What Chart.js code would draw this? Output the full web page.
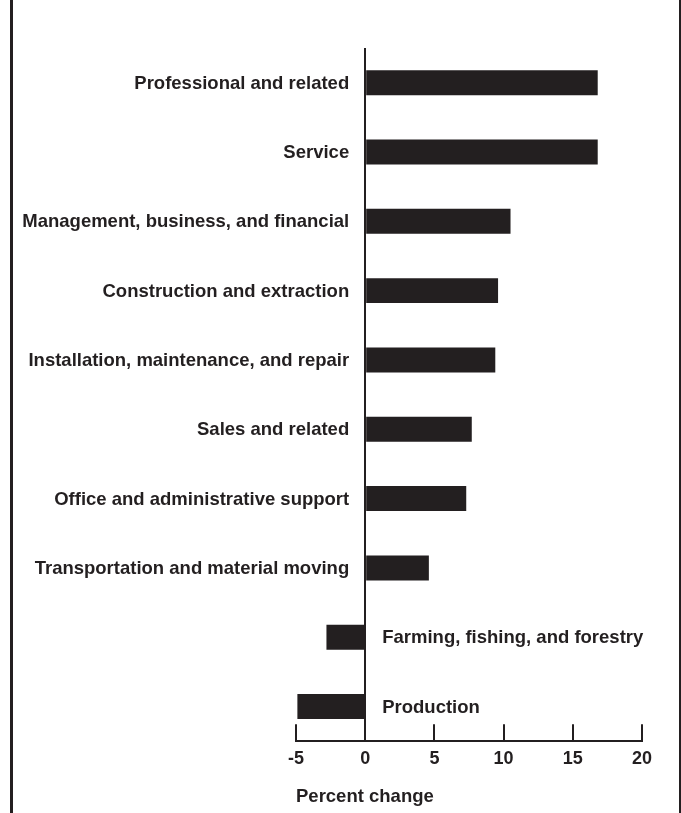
<!DOCTYPE html>
<html>
<head>
<meta charset="utf-8">
<script src="https://cdn.jsdelivr.net/npm/chart.js@4.4.1/dist/chart.umd.min.js"></script>
<style>
  html, body { margin: 0; padding: 0; background: #fff; }
  canvas { display: block; }
</style>
</head>
<body>
<canvas id="myChart" width="681" height="813"></canvas>
<script>
// occupations, ordered top to bottom
const categories = [
  'Professional and related',
  'Service',
  'Management, business, and financial',
  'Construction and extraction',
  'Installation, maintenance, and repair',
  'Sales and related',
  'Office and administrative support',
  'Transportation and material moving',
  'Farming, fishing, and forestry',
  'Production'
];
const percentChange = [16.8, 16.8, 10.5, 9.6, 9.4, 7.7, 7.3, 4.6, -2.8, -4.9];
const xTicks = [-5, 0, 5, 10, 15, 20];
const axisTitle = 'Percent change';

const ink = '#231f20';
const font = 'Liberation Sans, Arial, Helvetica, sans-serif';

// frame lines on left and right edge
const framePlugin = {
  id: 'frame',
  beforeDraw(chart) {
    const c = chart.ctx;
    c.save();
    c.fillStyle = ink;
    c.fillRect(10, 0, 3, chart.height);
    c.fillRect(chart.width - 2, 0, 2, chart.height);
    c.restore();
  }
};

// tick marks go up from the axis line, not down
const upTicks = {
  id: 'upTicks',
  afterDraw(chart) {
    const x = chart.scales.x;
    const c = chart.ctx;
    const bottom = chart.chartArea.bottom;
    c.save();
    c.strokeStyle = ink;
    c.lineWidth = 2;
    x.ticks.forEach(t => {
      const px = Math.round(x.getPixelForValue(t.value));
      c.beginPath();
      c.moveTo(px, bottom - 17);
      c.lineTo(px, bottom);
      c.stroke();
    });
    c.restore();
  }
};

// category labels sit beside the zero line
const catLabels = {
  id: 'catLabels',
  afterDatasetsDraw(chart) {
    const x = chart.scales.x;
    const y = chart.scales.y;
    const c = chart.ctx;
    const zero = x.getPixelForValue(0);
    c.save();
    c.fillStyle = ink;
    c.font = 'bold 18.5px ' + font;
    c.textBaseline = 'middle';
    categories.forEach((name, i) => {
      const py = y.getPixelForValue(i) + 1;
      if (percentChange[i] >= 0) {
        c.textAlign = 'right';
        c.fillText(name, zero - 16, py);
      } else {
        c.textAlign = 'left';
        c.fillText(name, zero + 17, py);
      }
    });
    c.restore();
  }
};

const ctx = document.getElementById('myChart');

new Chart(ctx, {
  type: 'bar',
  data: {
    labels: categories,
    datasets: [{
      label: axisTitle,
      data: percentChange,
      backgroundColor: ink,
      borderWidth: 0,
      categoryPercentage: 1,
      barPercentage: 0.36
    }]
  },
  options: {
    indexAxis: 'y',
    responsive: false,
    animation: false,
    layout: {
      padding: { left: 296, right: 39, top: 48, bottom: 5 }
    },
    plugins: {
      legend: { display: false },
      tooltip: { enabled: false }
    },
    scales: {
      x: {
        min: xTicks[0],
        max: xTicks[xTicks.length - 1],
        ticks: {
          stepSize: 5,
          color: ink,
          padding: 7,
          font: { family: font, size: 18, weight: 'bold' }
        },
        grid: {
          drawTicks: false,
          lineWidth: 2,
          color: c => (c.tick && c.tick.value === 0 ? ink : 'rgba(0,0,0,0)')
        },
        border: { display: true, color: ink, width: 2 },
        title: {
          display: true,
          text: axisTitle,
          align: 'start',
          color: ink,
          padding: { top: 9, bottom: 0 },
          font: { family: font, size: 18.5, weight: 'bold' }
        }
      },
      y: {
        display: false,
        grid: { display: false }
      }
    }
  },
  plugins: [framePlugin, upTicks, catLabels]
});
</script>
</body>
</html>
